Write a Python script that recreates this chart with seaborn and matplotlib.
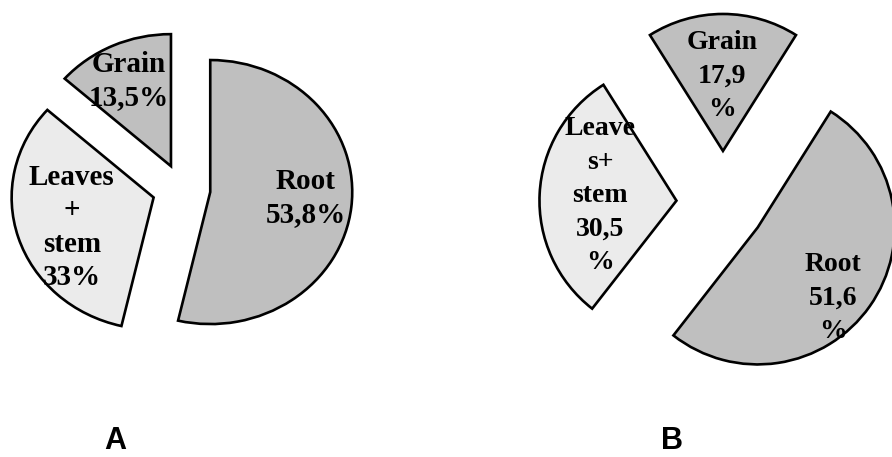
import matplotlib
matplotlib.use("Agg")
import matplotlib.pyplot as plt
import seaborn as sns

# ==============================
# DATA
# ==============================

parts = ["Root", "Leaves+stem", "Grain"]
share_a = [53.8, 33.0, 13.5]
share_b = [51.6, 30.5, 17.9]
labels_a = ["Root\n53,8%", "Leaves\n+\nstem\n33%", "Grain\n13,5%"]
labels_b = ["Root\n51,6\n%", "Leave\ns+\nstem\n30,5\n%", "Grain\n17,9\n%"]
panel_names = ["A", "B"]

# ==============================
# STYLE
# ==============================

sns.set_theme(style="white")
plt.rcParams["font.family"] = ["Liberation Serif", "DejaVu Serif"]
plt.rcParams["text.color"] = "black"

colors = ["#bfbfbf", "#ebebeb", "#bfbfbf"]

fig = plt.figure(figsize=(8.92, 4.57), dpi=100)


def draw(ax, shares, labels, start, explode, offsets, xlim, ylim, size, spacing):
    wedges, _ = ax.pie(shares, colors=colors, explode=explode,
                       startangle=start, counterclock=False,
                       wedgeprops=dict(edgecolor="black", linewidth=1.9))
    ax.set_aspect("auto")
    ax.set_xlim(*xlim)
    ax.set_ylim(*ylim)
    # labels placed relative to each wedge's tip
    for w, lab, (dx, dy) in zip(wedges, labels, offsets):
        cx, cy = w.center
        ax.text(cx + dx, cy + dy, lab, ha="center", va="center",
                fontsize=size, fontweight="bold", color="black",
                linespacing=spacing)


# ==============================
# PANEL A
# ==============================

ax_a = fig.add_axes([0, 57 / 457, 0.5, 400 / 457])
draw(ax_a, share_a, labels_a, 90,
     [0.20, 0.21, 0.19],
     [(0.67, -0.045), (-0.577, -0.227), (-0.296, 0.644)],
     (-1.282, 1.859), (-1.598, 1.432), 21, 1.3)

# ==============================
# PANEL B
# ==============================

ax_b = fig.add_axes([0.5, 57 / 457, 0.5, 400 / 457])
draw(ax_b, share_b, labels_b, 90 - share_b[2] * 3.6 / 2,
     [0.31, 0.34, 0.38],
     [(0.547, -0.518), (-0.555, 0.036), (-0.007, 0.547)],
     (-2.022, 1.234), (-1.438, 1.482), 20, 1.45)

for name, x in zip(panel_names, [115, 672]):
    fig.text(x / 892, 1 - 441 / 457, name, ha="center", va="center",
             fontsize=22, fontweight="bold", family="Liberation Sans",
             color="black")

fig.savefig("out.png", dpi=100)
